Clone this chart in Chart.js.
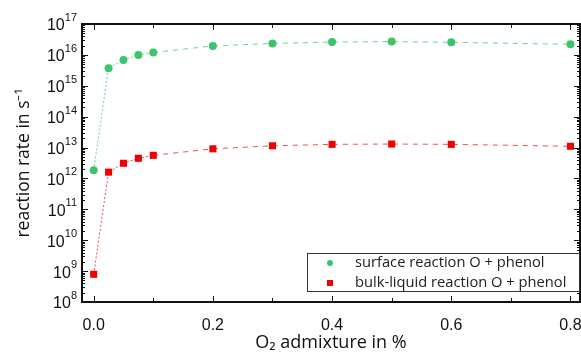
<!DOCTYPE html>
<html>
<head>
<meta charset="utf-8">
<script src="https://cdn.jsdelivr.net/npm/chart.js@4.4.1/dist/chart.umd.min.js"></script>
<style>
  html, body { margin: 0; padding: 0; background: #fff; overflow: hidden; }
  #wrap { width: 581px; height: 354px; position: relative; }
</style>
</head>
<body>
<div id="wrap"><canvas id="rateChart"></canvas></div>
<script>
// O2 admixture in %
const admixture = [0, 0.025, 0.05, 0.075, 0.1, 0.2, 0.3, 0.4, 0.5, 0.6, 0.8];
// surface reaction O + phenol, rate in s^-1
const surfaceRate = [1.85e12, 3.7e15, 6.8e15, 1.0e16, 1.2e16, 1.95e16, 2.35e16, 2.6e16, 2.7e16, 2.55e16, 2.2e16];
// bulk-liquid reaction O + phenol, rate in s^-1
const bulkRate = [7.9e8, 1.6e12, 3.1e12, 4.5e12, 5.6e12, 9.1e12, 1.14e13, 1.27e13, 1.3e13, 1.27e13, 1.1e13];
const xTicks = [0, 0.2, 0.4, 0.6, 0.8];
const decades = [8, 9, 10, 11, 12, 13, 14, 15, 16, 17];

const GREEN = "#3cc46a";
const RED = "#f00000";

const toPoints = (ys) => admixture.map((x, i) => ({ x: x, y: ys[i] }));

// dotted near the origin, dashed further out
const segDash = (ctx) => (ctx.p0.parsed.x < 0.1 ? [2, 2] : [5, 5]);

// frame, inward ticks, y labels with superscripts, legend box
const frameTicks = {
  id: "frameTicks",
  afterDraw(chart) {
    const { ctx, chartArea: a } = chart;
    const xs = chart.scales.x, ys = chart.scales.y;
    ctx.save();
    ctx.strokeStyle = "#111";
    ctx.lineWidth = 1;
    ctx.beginPath();
    // x ticks every 0.1, longer at 0.2
    for (let k = 0; k <= 8; k++) {
      const px = Math.round(xs.getPixelForValue(k / 10)) + 0.5;
      const len = k % 2 === 0 ? 6 : 4;
      ctx.moveTo(px, a.bottom); ctx.lineTo(px, a.bottom - len);
      ctx.moveTo(px, a.top); ctx.lineTo(px, a.top + len);
    }
    // log ticks
    decades.forEach((e) => {
      for (let m = 1; m <= 9; m++) {
        const v = m * Math.pow(10, e);
        if (v > ys.max * 1.0001) continue;
        const py = Math.round(ys.getPixelForValue(v)) + 0.5;
        const len = m === 1 ? 6 : 3;
        ctx.moveTo(a.left, py); ctx.lineTo(a.left + len, py);
        ctx.moveTo(a.right, py); ctx.lineTo(a.right - len, py);
      }
    });
    ctx.stroke();
    ctx.lineWidth = 2;
    ctx.strokeRect(a.left, a.top, a.right - a.left, a.bottom - a.top);

    // y tick labels 10^n
    ctx.fillStyle = "#111";
    ctx.textBaseline = "middle";
    decades.forEach((e) => {
      const py = ys.getPixelForValue(Math.pow(10, e));
      const exp = String(e);
      ctx.font = "11px 'Liberation Sans', Arial, sans-serif";
      const ew = ctx.measureText(exp).width;
      ctx.textAlign = "left";
      ctx.fillText(exp, a.left - 5 - ew, py - 6);
      ctx.font = "16px 'Liberation Sans', Arial, sans-serif";
      ctx.textAlign = "right";
      ctx.fillText("10", a.left - 5 - ew, py + 2);
    });

    // legend
    const lx = 307, ly = 253, lw = a.right - lx, lh = 39;
    ctx.fillStyle = "#fff";
    ctx.fillRect(lx, ly, lw, lh);
    ctx.lineWidth = 1;
    ctx.strokeStyle = "#333";
    ctx.strokeRect(lx + 0.5, ly + 0.5, lw - 1, lh - 1);
    ctx.font = "14.7px 'Open Sans', sans-serif";
    ctx.textAlign = "left";
    ctx.textBaseline = "middle";
    chart.data.datasets.forEach((ds, i) => {
      const cy = ly + 10 + i * 20;
      ctx.fillStyle = ds.pointBackgroundColor;
      if (ds.pointStyle === "rect") {
        ctx.fillRect(327, cy - 3, 6, 6);
      } else {
        ctx.beginPath();
        ctx.arc(330, cy, 3, 0, Math.PI * 2);
        ctx.fill();
      }
      ctx.fillStyle = "#222";
      ctx.fillText(ds.label, 355, cy);
    });
    ctx.restore();
  }
};

new Chart(document.getElementById("rateChart"), {
  type: "line",
  data: {
    datasets: [
      {
        label: "surface reaction O + phenol",
        data: toPoints(surfaceRate),
        borderColor: "rgba(60,196,106,0.75)",
        borderWidth: 1,
        pointStyle: "circle",
        pointRadius: 4,
        pointBorderWidth: 0,
        pointBackgroundColor: GREEN,
        segment: { borderDash: segDash }
      },
      {
        label: "bulk-liquid reaction O + phenol",
        data: toPoints(bulkRate),
        borderColor: "rgba(240,0,0,0.7)",
        borderWidth: 1,
        pointStyle: "rect",
        pointRadius: 5,
        pointBorderWidth: 0,
        pointBackgroundColor: RED,
        segment: { borderDash: segDash }
      }
    ]
  },
  options: {
    responsive: true,
    maintainAspectRatio: false,
    animation: false,
    layout: { autoPadding: false, padding: { top: 24, right: 1, left: 0, bottom: 0 } },
    plugins: { legend: { display: false }, tooltip: { enabled: false } },
    scales: {
      x: {
        type: "linear",
        min: -0.0196,
        max: 0.816,
        afterBuildTicks: (s) => { s.ticks = xTicks.map((v) => ({ value: v })); },
        afterFit: (s) => { s.height = 52; s.paddingLeft = 0; s.paddingRight = 0; },
        grid: { display: false },
        border: { display: false },
        ticks: {
          color: "#111",
          padding: 6,
          font: { family: "'Liberation Sans', Arial, sans-serif", size: 16 },
          callback: (v) => Number(v).toFixed(1)
        },
        title: {
          display: true,
          text: "O\u2082 admixture in %",
          color: "#111",
          padding: { top: 2, bottom: 0 },
          font: { family: "'Open Sans', sans-serif", size: 18 }
        }
      },
      y: {
        type: "logarithmic",
        min: 1e8,
        max: 1e17,
        afterBuildTicks: (s) => { s.ticks = decades.map((e) => ({ value: Math.pow(10, e) })); },
        afterFit: (s) => { s.width = 82; s.paddingTop = 0; s.paddingBottom = 0; },
        grid: { display: false },
        border: { display: false },
        ticks: { display: false },
        title: {
          display: true,
          text: "reaction rate in s\u207b\u00b9",
          color: "#111",
          padding: { top: 14, bottom: 0 },
          font: { family: "'Open Sans', sans-serif", size: 17.5 }
        }
      }
    }
  },
  plugins: [frameTicks]
});
</script>
</body>
</html>
